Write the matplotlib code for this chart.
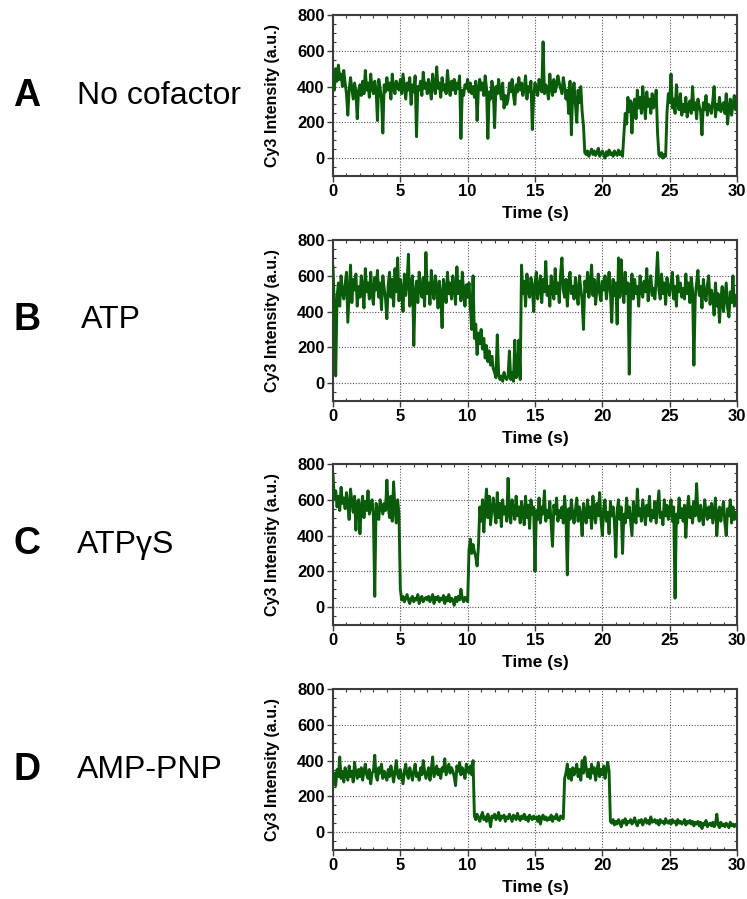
import numpy as np
import matplotlib
matplotlib.use('Agg')
import matplotlib.pyplot as plt
from matplotlib.ticker import MultipleLocator

plt.rcParams['font.family'] = ['Liberation Sans', 'DejaVu Sans']

# Frame interval of the traces (s)
dt = 0.1

# Cy3 intensity (a.u.), one row per second
trace_a = [
    470, 380, 500, 430, 520, 440, 470, 400, 490, 420,
    360, 240, 380, 450, 390, 330, 420, 370, 220, 380,
    410, 350, 430, 360, 490, 380, 420, 340, 470, 390,
    360, 430, 380, 210, 440, 390, 330, 140, 410, 370,
    450, 380, 420, 330, 470, 390, 360, 430, 400, 380,
    440, 360, 470, 400, 330, 420, 380, 450, 300, 410,
    370, 460, 120, 400, 380, 430, 350, 480, 390, 420,
    360, 440, 390, 330, 470, 400, 360, 510, 390, 420,
    340, 450, 380, 410, 360, 490, 400, 350, 430, 380,
    440, 360, 420, 390, 460, 110, 380, 350, 410, 390,
    440, 370, 420, 360, 400, 340, 430, 210, 390, 440,
    380, 420, 350, 460, 390, 110, 370, 330, 430, 380,
    170, 400, 360, 440, 380, 330, 420, 280, 350, 300,
    330, 420, 370, 440, 350, 300, 410, 370, 450, 380,
    420, 350, 390, 460, 330, 400, 370, 430, 160, 340,
    420, 380, 350, 440, 390, 370, 650, 360, 410, 380,
    330, 470, 390, 350, 440, 370, 400, 460, 420, 390,
    360, 450, 400, 330, 380, 250, 430, 130, 370, 420,
    300, 200, 380, 310, 400, 260, 180, 30, 20, 40,
    10, 30, 50, 20, 40, 15, 30, 55, 10, 25,
    40, 20, 0, 35, 15, 45, 20, 30, 10, 40,
    25, 15, 45, 20, 35, 10, 130, 250, 190, 340,
    260, 320, 140, 300, 330, 220, 380, 280, 340, 250,
    400, 300, 220, 370, 290, 330, 250, 360, 280, 310,
    380, 140, 20, 10, 30, 0, 20, 10, 250, 360,
    310, 470, 280, 330, 250, 410, 300, 270, 360, 240,
    300, 260, 340, 230, 290, 320, 250, 400, 270, 310,
    220, 330, 290, 260, 130, 310, 270, 350, 240, 300,
    280, 250, 320, 400, 230, 300, 270, 340, 260, 290,
    310, 250, 360, 190, 280, 330, 240, 300, 350, 270,
    310,
]

trace_b = [
    650, 420, 40, 480, 560, 430, 600, 510, 470, 550,
    620, 340, 500, 660, 450, 580, 520, 610, 430, 540,
    480, 600, 530, 420, 640, 510, 560, 470, 620, 500,
    440, 590, 520, 630, 480, 560, 410, 600, 530, 470,
    360, 550, 620, 480, 580, 430, 640, 510, 700, 460,
    580, 520, 400, 610, 490, 560, 720, 430, 540, 600,
    210, 510, 570, 450, 620, 520, 480, 590, 430, 730,
    500, 560, 440, 630, 520, 470, 600, 540, 420, 570,
    490, 310, 580, 530, 450, 620, 500, 560, 470, 600,
    530, 440, 650, 500, 570, 460, 620, 510, 430, 550,
    480, 560, 420, 300, 600, 250, 330, 160, 280, 220,
    300, 190, 250, 140, 210, 120, 180, 100, 150, 80,
    60, 30, 270, 50, 20, 40, 10, 60, 30, 20,
    40, 180, 20, 60, 10, 240, 30, 50, 240, 20,
    660, 500, 570, 430, 610, 520, 480, 590, 540, 400,
    560, 620, 470, 530, 600, 450, 580, 510, 680, 490,
    540, 430, 600, 520, 470, 640, 500, 560, 450, 610,
    700, 520, 480, 580, 430, 560, 620, 500, 540, 470,
    590, 510, 440, 600, 530, 460, 300, 570, 510, 620,
    480, 550, 660, 490, 580, 440, 530, 610, 500, 460,
    570, 520, 600, 470, 540, 620, 510, 340, 580, 490,
    560, 330, 700, 480, 690, 540, 450, 620, 500, 560,
    50, 520, 610, 470, 580, 500, 540, 430, 600, 520,
    480, 570, 510, 640, 460, 550, 600, 490, 530, 470,
    580, 730, 520, 470, 610, 500, 560, 440, 590, 530,
    490, 560, 620, 470, 540, 430, 600, 510, 560, 480,
    530, 470, 610, 500, 560, 450, 590, 520, 100, 480,
    560, 630, 490, 540, 420, 580, 500, 460, 550, 600,
    440, 520, 480, 380, 560, 430, 500, 340, 470, 540,
    400, 480, 560, 420, 370, 510, 450, 600, 430, 490,
    470,
]

trace_c = [
    740, 600, 650, 560, 620, 540, 670, 580, 610, 550,
    640, 570, 490, 660, 590, 530, 620, 430, 580, 600,
    410, 560, 620, 500, 590, 540, 650, 520, 570, 600,
    510, 60, 580, 540, 490, 600, 560, 520, 580, 540,
    710, 560, 500, 620, 480, 700, 550, 470, 600, 520,
    100, 40, 60, 30, 50, 70, 40, 20, 50, 60,
    30, 50, 40, 70, 20, 50, 60, 30, 45, 55,
    40, 60, 30, 50, 70, 20, 55, 40, 60, 30,
    50, 40, 65, 20, 55, 35, 70, 30, 50, 40,
    10, 55, 30, 60, 40, 100, 50, 30, 55, 40,
    30, 320, 380, 300, 350, 310, 280, 230, 340, 560,
    480, 600, 420, 560, 660, 500, 620, 460, 550, 610,
    530, 470, 640, 500, 580, 450, 600, 520, 560, 480,
    720, 520, 470, 600, 540, 490, 620, 510, 560, 470,
    590, 530, 460, 620, 500, 570, 440, 600, 520, 560,
    200, 540, 490, 610, 470, 560, 520, 650, 480, 540,
    500, 590, 460, 340, 570, 520, 610, 480, 540, 500,
    560, 470, 620, 510, 180, 550, 490, 600, 520, 470,
    540, 610, 480, 560, 510, 400, 580, 520, 470, 600,
    500, 560, 440, 620, 520, 470, 580, 510, 640, 490,
    400, 550, 600, 480, 530, 410, 590, 510, 560, 470,
    280, 540, 600, 490, 560, 300, 520, 470, 610, 500,
    560, 480, 400, 590, 520, 470, 660, 510, 550, 480,
    600, 530, 460, 570, 510, 620, 480, 540, 500, 590,
    470, 560, 650, 500, 530, 460, 600, 510, 570, 490,
    530, 600, 480, 560, 50, 520, 470, 610, 500, 550,
    480, 570, 390, 540, 620, 500, 560, 470, 590, 510,
    690, 520, 480, 570, 510, 460, 600, 530, 490, 560,
    500, 580, 470, 540, 610, 400, 520, 560, 480, 540,
    590, 470, 400, 550, 510, 600, 470, 560, 490, 530,
    500,
]

trace_d = [
    290, 330, 260, 350, 310, 420, 300, 340, 280, 360,
    320, 290, 370, 310, 340, 280, 390, 330, 300, 350,
    310, 360, 290, 340, 380, 320, 300, 350, 270, 330,
    340, 430, 310, 290, 360, 330, 380, 300, 340, 320,
    290, 350, 310, 370, 330, 280, 340, 400, 320, 300,
    350, 310, 270, 340, 380, 320, 300, 360, 330, 290,
    340, 380, 310, 330, 290, 360, 320, 400, 340, 300,
    330, 360, 290, 350, 420, 310, 340, 370, 320, 350,
    300, 360, 340, 410, 320, 350, 380, 330, 360, 340,
    310, 260, 370, 340, 390, 320, 360, 340, 300, 380,
    350, 330, 370, 320, 400, 90, 70, 100, 80, 60,
    90, 110, 70, 85, 60, 100, 75, 30, 90, 80,
    100, 70, 85, 110, 65, 90, 80, 95, 60, 85,
    75, 100, 80, 60, 95, 85, 70, 105, 80, 65,
    90, 75, 100, 70, 85, 60, 95, 80, 70, 90,
    75, 85, 60, 90, 45, 80, 95, 70, 85, 65,
    80, 70, 95, 60, 85, 75, 100, 70, 65, 90,
    80, 75, 300, 330, 380, 300, 350, 290, 360, 320,
    340, 380, 310, 350, 290, 400, 330, 420, 360, 310,
    350, 300, 380, 330, 360, 290, 340, 390, 310, 350,
    320, 370, 300, 350, 390, 340, 60, 50, 70, 40,
    60, 45, 70, 55, 30, 65, 50, 75, 40, 60,
    55, 70, 45, 60, 80, 50, 35, 65, 55, 70,
    40, 60, 75, 50, 65, 45, 85, 55, 60, 70,
    50, 65, 40, 70, 55, 60, 45, 75, 55, 50,
    65, 45, 70, 55, 60, 40, 70, 50, 60, 45,
    55, 70, 40, 60, 50, 65, 45, 60, 35, 55,
    45, 60, 35, 55, 20, 50, 40, 65, 30, 45,
    50, 35, 55, 30, 45, 100, 40, 25, 55, 35,
    45, 30, 50, 40, 25, 55, 35, 45, 30, 40,
    40,
]

letters = ['A', 'B', 'C', 'D']
conditions = ['No cofactor', 'ATP', 'ATP\u03b3S', 'AMP-PNP']
traces = [trace_a, trace_b, trace_c, trace_d]

W, H = 747, 899
fig = plt.figure(figsize=(W / 100, H / 100), dpi=100)

# axes boxes in pixels (left, top, right, bottom)
ax_left, ax_right = 333, 737
ax_tops = [15, 240, 464, 689]
ax_h = 161

line_col = '#0a5c0a'
frame_col = '#3c3c3c'

for k in range(4):
    top = ax_tops[k]
    ax = fig.add_axes([ax_left / W, 1 - (top + ax_h) / H,
                       (ax_right - ax_left) / W, ax_h / H])
    y = np.array(traces[k], dtype=float)
    t = np.arange(len(y)) * dt
    ax.plot(t, y, color=line_col, lw=2.1, zorder=3)

    ax.set_xlim(0, 30)
    ax.set_ylim(-100, 800)
    ax.set_xticks([0, 5, 10, 15, 20, 25, 30])
    ax.set_yticks([0, 200, 400, 600, 800])
    ax.xaxis.set_minor_locator(MultipleLocator(1))
    ax.yaxis.set_minor_locator(MultipleLocator(50))
    ax.tick_params(which='major', direction='out', length=4, width=1,
                   color=frame_col, labelsize=12, pad=2)
    ax.tick_params(which='minor', direction='in', length=2.5, width=0.8,
                   color=frame_col, top=True, right=True)
    for lab in ax.get_xticklabels() + ax.get_yticklabels():
        lab.set_fontweight('bold')

    ax.grid(True, which='major', color='#555555', ls=(0, (1, 1.5)), lw=0.8)
    for s in ax.spines.values():
        s.set_color(frame_col)
        s.set_linewidth(1.5)

    ax.set_ylabel('Cy3 Intensity (a.u.)', fontsize=11.5, fontweight='bold')
    ax.yaxis.set_label_coords(-0.13, 0.5)
    ax.set_xlabel('Time (s)', fontsize=12.5, fontweight='bold')
    ax.xaxis.set_label_coords(0.5, -0.185)

    cy = top + ax_h / 2
    fig.text(13 / W, 1 - cy / H, letters[k], fontsize=27, fontweight='bold',
             va='center', ha='left')
    fig.text((77 if k != 1 else 81) / W, 1 - cy / H, conditions[k],
             fontsize=23, va='center', ha='left')

fig.savefig('out.png', dpi=100)
